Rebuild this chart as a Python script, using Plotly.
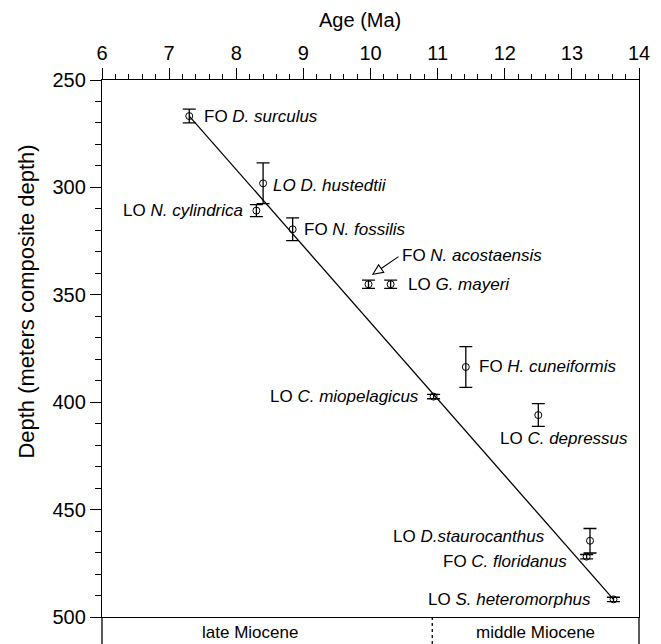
import plotly.graph_objects as go

# ---------------- data ----------------
AGE_RANGE = [6, 14]
DEPTH_RANGE = [500, 250]          # reversed (depth increases downward)

EVENT_LABELS = [
    "FO <i>D. surculus</i>",
    "<i>LO D. hustedtii</i>",
    "LO <i>N. cylindrica</i>",
    "FO <i>N. fossilis</i>",
    "",                            # FO N. acostaensis (labelled with arrow)
    "LO <i>G. mayeri</i>",
    "FO <i>H. cuneiformis</i>",
    "LO <i>C. miopelagicus</i>",
    "LO <i>C. depressus</i>",
    "LO <i>D.staurocanthus</i>",
    "FO <i>C. floridanus</i>",
    "LO <i>S. heteromorphus</i>",
]
AGES = [7.30, 8.40, 8.30, 8.84, 9.97, 10.30, 11.42, 10.94, 12.50, 13.27, 13.22, 13.62]
DEPTHS = [266.8, 298.1, 310.8, 319.5, 345.1, 345.1, 383.6, 397.4, 406.0, 464.5, 471.9, 491.8]
DEPTH_ERR = [3.2, 9.5, 2.8, 5.3, 1.9, 1.9, 9.5, 1.0, 5.3, 5.7, 1.0, 1.0]

ARROW_LABEL = "FO <i>N. acostaensis</i>"
ARROW_INDEX = 4

LINE_AGES = [7.30, 13.62]
LINE_DEPTHS = [266.8, 491.8]

BOUNDARY_AGE = 10.92
EPOCH_LABELS = ["late Miocene", "middle Miocene"]

X_TITLE = "Age (Ma)"
Y_TITLE = "Depth (meters composite depth)"

# ---------------- style ----------------
FONT = "Liberation Sans, Arial, Helvetica, sans-serif"
LABEL_SIZE = 17
# the page body adds an 8px offset; the figure is sized so it ends at the window edge
PAGE_OFFSET = 8
# per-label placement: (xanchor, xshift px, yshift px)
LABEL_POS = [
    ("left", 13, 0),
    ("left", 8, -2),
    ("right", -11, 0),
    ("left", 9, 0),
    None,
    ("left", 15, 0),
    ("left", 11, 0),
    ("right", -13, 0),
    ("left", -40, -23),
    ("right", -43, 4),
    ("right", -18, -5),
    ("right", -20, 0),
]
EPOCH_XSHIFT = [-17, 0]

fig = go.Figure()

fig.add_trace(go.Scatter(
    x=LINE_AGES, y=LINE_DEPTHS, mode="lines",
    line=dict(color="black", width=1.3), hoverinfo="skip", showlegend=False,
))

fig.add_trace(go.Scatter(
    x=AGES, y=DEPTHS, mode="markers",
    marker=dict(symbol="circle-open", size=7, color="black", line=dict(width=1)),
    error_y=dict(type="data", array=DEPTH_ERR, symmetric=True,
                 color="black", thickness=1.3, width=6.5),
    showlegend=False,
))

for lab, a, d, pos in zip(EVENT_LABELS, AGES, DEPTHS, LABEL_POS):
    if pos is None:
        continue
    xa, xs, ys = pos
    fig.add_annotation(x=a, y=d, xref="x", yref="y", text=lab, showarrow=False,
                       xanchor=xa, yanchor="middle", xshift=xs, yshift=ys,
                       font=dict(family=FONT, size=LABEL_SIZE, color="black"))

# arrowed label for FO N. acostaensis
fig.add_annotation(x=AGES[ARROW_INDEX], y=DEPTHS[ARROW_INDEX], xref="x", yref="y",
                   text=ARROW_LABEL, showarrow=False, xanchor="left", yanchor="middle",
                   xshift=32, yshift=29, font=dict(family=FONT, size=LABEL_SIZE, color="black"))
fig.add_shape(type="path", xref="x", yref="y", xsizemode="pixel", ysizemode="pixel",
              xanchor=AGES[ARROW_INDEX], yanchor=DEPTHS[ARROW_INDEX],
              path="M 4.4 10 L 10.1 19.4 L 15.2 12 Z M 12.7 15.7 L 30 27.6",
              line=dict(color="black", width=1.1), fillcolor="white")

# epoch strip below the plot
fig.add_shape(type="line", xref="paper", yref="paper", x0=0, x1=0, y0=0, y1=-0.1,
              line=dict(color="black", width=1.3))
fig.add_shape(type="line", xref="paper", yref="paper", x0=1, x1=1, y0=0, y1=-0.1,
              line=dict(color="black", width=1.3))
fig.add_shape(type="line", xref="x", yref="paper", x0=BOUNDARY_AGE, x1=BOUNDARY_AGE,
              y0=0, y1=-0.1, line=dict(color="black", width=1.3, dash="dot"))
bounds = [AGE_RANGE[0], BOUNDARY_AGE, AGE_RANGE[1]]
for i, lab in enumerate(EPOCH_LABELS):
    fig.add_annotation(x=(bounds[i] + bounds[i + 1]) / 2, y=0, xref="x", yref="paper",
                       text=lab, showarrow=False, xanchor="center", yanchor="middle",
                       xshift=EPOCH_XSHIFT[i], yshift=-15,
                       font=dict(family=FONT, size=17, color="black"))

# axis titles
fig.add_annotation(x=0.48, y=1.112, xref="paper", yref="paper", text=X_TITLE,
                   showarrow=False, xanchor="center", yanchor="middle",
                   font=dict(family=FONT, size=20, color="black"))
fig.add_annotation(x=-0.14, y=0.587, xref="paper", yref="paper", text=Y_TITLE,
                   showarrow=False, xanchor="center", yanchor="middle", textangle=-90,
                   font=dict(family=FONT, size=22, color="black"))

fig.update_layout(
    width=661 - PAGE_OFFSET, height=644 - PAGE_OFFSET,
    margin=dict(l=102 - PAGE_OFFSET, r=22, t=80 - PAGE_OFFSET, b=27),
    paper_bgcolor="white", plot_bgcolor="white",
    font=dict(family=FONT, color="black"),
    xaxis=dict(
        range=AGE_RANGE, side="top", dtick=1, tick0=6, automargin=False,
        ticks="outside", ticklen=11, tickwidth=1.3, tickcolor="black",
        showline=True, linewidth=1.3, linecolor="black", mirror=True,
        showgrid=False, zeroline=False,
        minor=dict(dtick=0.2, ticks="outside", ticklen=5, tickwidth=1, tickcolor="black"),
        tickfont=dict(family=FONT, size=20),
    ),
    yaxis=dict(
        range=DEPTH_RANGE, dtick=50, tick0=250, automargin=False,
        ticks="outside", ticklen=11, tickwidth=1.3, tickcolor="black",
        showline=True, linewidth=1.3, linecolor="black", mirror=True,
        showgrid=False, zeroline=False,
        minor=dict(dtick=10, ticks="outside", ticklen=6, tickwidth=1, tickcolor="black"),
        tickfont=dict(family=FONT, size=20),
    ),
)

fig.write_html("out.html")
